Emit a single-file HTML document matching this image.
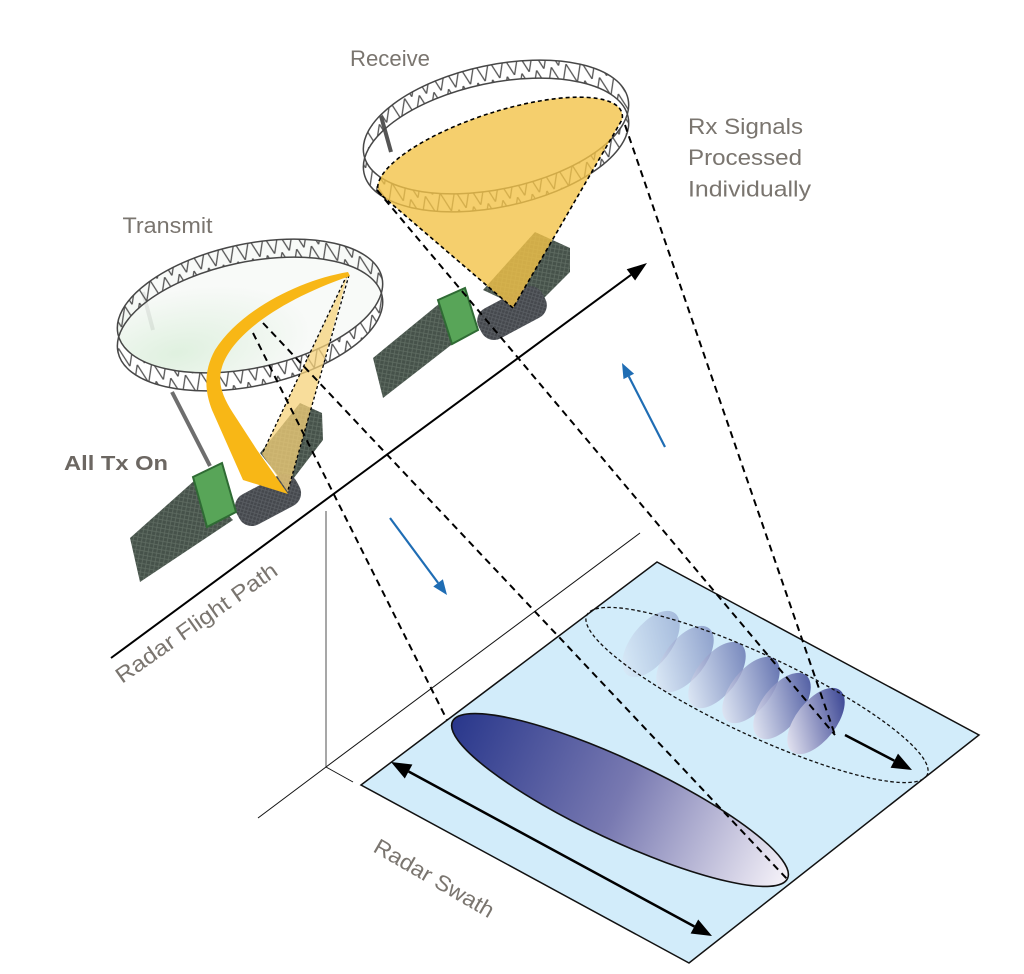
<!DOCTYPE html>
<html><head><meta charset="utf-8">
<style>html,body{margin:0;padding:0;background:#fff}svg{display:block}</style>
</head><body>
<svg width="1024" height="974" viewBox="0 0 1024 974" xmlns="http://www.w3.org/2000/svg">
<defs>
 <pattern id="truss" width="15" height="20" patternUnits="userSpaceOnUse">
  <path d="M0,20 L7.5,0 L15,20" fill="none" stroke="#555" stroke-width="1.3"/>
 </pattern>
 <pattern id="panel" width="6" height="6" patternUnits="userSpaceOnUse" patternTransform="rotate(-35)">
  <rect width="6" height="6" fill="#46524a"/>
  <path d="M0,0 L6,6 M6,0 L0,6" stroke="#5f6c62" stroke-width="0.8"/>
 </pattern>
 <pattern id="body" width="5" height="5" patternUnits="userSpaceOnUse">
  <rect width="5" height="5" fill="#45484d"/>
  <path d="M0,0 L5,5 M5,0 L0,5" stroke="#5a5e63" stroke-width="0.8"/>
 </pattern>
 <linearGradient id="bigG" gradientUnits="userSpaceOnUse" x1="437" y1="800" x2="803" y2="800">
  <stop offset="0" stop-color="#2a388c"/>
  <stop offset="0.5" stop-color="#7879b1"/>
  <stop offset="1" stop-color="#f4f1f8"/>
 </linearGradient>
 <linearGradient id="smG" x1="0.7" y1="0" x2="0.3" y2="1">
  <stop offset="0" stop-color="#394493"/>
  <stop offset="1" stop-color="#e6e6f2"/>
 </linearGradient>
 <radialGradient id="memb" cx="0.2" cy="0.75" r="0.5">
  <stop offset="0" stop-color="#dcefdc"/>
  <stop offset="1" stop-color="#f7f9f7"/>
 </radialGradient>
</defs>
<rect width="1024" height="974" fill="#fff"/>

<!-- ground plane -->
<polygon points="361,785 657,562 979,735 689,963" fill="#d2ecfa" stroke="#111" stroke-width="1.5"/>
<ellipse cx="620" cy="800" rx="185" ry="40" transform="rotate(25.1 620 800)" fill="url(#bigG)" stroke="#111" stroke-width="1.6"/>

<ellipse cx="651" cy="644" rx="20" ry="39" transform="rotate(38 651 644)" fill="url(#smG)" opacity="0.3"/>
<ellipse cx="685" cy="659" rx="20" ry="39" transform="rotate(38 685 659)" fill="url(#smG)" opacity="0.45"/>
<ellipse cx="717" cy="675" rx="20" ry="39" transform="rotate(38 717 675)" fill="url(#smG)" opacity="0.6"/>
<ellipse cx="751" cy="690" rx="20" ry="39" transform="rotate(38 751 690)" fill="url(#smG)" opacity="0.72"/>
<ellipse cx="782" cy="706" rx="20" ry="39" transform="rotate(38 782 706)" fill="url(#smG)" opacity="0.85"/>
<ellipse cx="816" cy="721" rx="20" ry="39" transform="rotate(38 816 721)" fill="url(#smG)" opacity="1"/>

<ellipse cx="757" cy="695" rx="188" ry="40" transform="rotate(25.1 757 695)" fill="none" stroke="#111" stroke-width="1.3" stroke-dasharray="3.5 2.5"/>

<!-- arrows on plane -->
<line x1="408.6" y1="771.5" x2="694.4" y2="926.5" stroke="#000" stroke-width="2.5"/>
<polygon points="712,936 690.6,933.5 698.2,919.5" fill="#000"/>
<polygon points="391,762 404.8,778.5 412.4,764.5" fill="#000"/>
<line x1="845" y1="735" x2="894.3" y2="760.7" stroke="#000" stroke-width="2.5"/>
<polygon points="912,770 890.6,767.8 898,753.6" fill="#000"/>

<!-- thin projection lines -->
<line x1="326" y1="511" x2="326" y2="767" stroke="#8a8a8a" stroke-width="1.5"/>
<line x1="326" y1="767" x2="640" y2="533" stroke="#111" stroke-width="1"/>
<line x1="258" y1="818" x2="326" y2="767" stroke="#111" stroke-width="1"/>
<line x1="326" y1="767" x2="353" y2="782" stroke="#111" stroke-width="1"/>

<!-- LEFT (Transmit) satellite -->
<polygon points="130,538 195,480 233,520 140,582" fill="url(#panel)"/>
<polygon points="260,453 300,403 322,413 323,440 287,487" fill="url(#panel)"/>
<line x1="172" y1="392" x2="210" y2="466" stroke="#6e6e6e" stroke-width="4"/>
<line x1="143" y1="292" x2="153" y2="330" stroke="#555" stroke-width="4"/>
<rect x="234" y="483" width="68" height="34" rx="14" transform="rotate(-28 268 500)" fill="url(#body)"/>
<polygon points="193,477 222,463 236,512 207,527" fill="#58a558" stroke="#2f6b34" stroke-width="2"/>

<g transform="rotate(-12 250 306)">
 <ellipse cx="250" cy="306" rx="135" ry="62" fill="url(#memb)" opacity="0.9"/>
 <path fill-rule="evenodd" fill="url(#truss)" d="M115,306 a135,62 0 1,0 270,0 a135,62 0 1,0 -270,0 Z M111.3,323.6 a135,62 0 1,0 270,0 a135,62 0 1,0 -270,0 Z"/>
 <ellipse cx="250" cy="306" rx="135" ry="62" fill="none" stroke="#474747" stroke-width="1.5"/>
 <ellipse cx="246.3" cy="323.6" rx="135" ry="62" fill="none" stroke="#474747" stroke-width="1.5"/>
</g>

<polygon points="348,274 262,454 288,492" fill="#f6d27a" opacity="0.75"/>
<line x1="347" y1="275" x2="262" y2="454" stroke="#000" stroke-width="1.3" stroke-dasharray="3 2.5"/>
<line x1="349" y1="275" x2="288" y2="490" stroke="#000" stroke-width="1.3" stroke-dasharray="3 2.5"/>

<path d="M348,272 C300,280 240,310 215,350 C203,372 205,392 212,410 L243,480 L288,494 L257,450 L233,413 C220,393 218,380 222,367 C232,335 280,300 350,276 Z" fill="#f8b716"/>

<!-- RIGHT (Receive) satellite -->
<polygon points="373,358 440,303 455,342 383,398" fill="url(#panel)"/>
<polygon points="483,290 535,232 570,248 570,272 530,312" fill="url(#panel)"/>
<line x1="381" y1="116" x2="391" y2="152" stroke="#555" stroke-width="4"/>
<rect x="476" y="296" width="72" height="34" rx="14" transform="rotate(-28 512 313)" fill="url(#body)"/>
<polygon points="438,300 465,288 478,330 452,344" fill="#58a558" stroke="#2f6b34" stroke-width="2"/>

<g transform="rotate(-12 496 127)">
 <path fill-rule="evenodd" fill="url(#truss)" d="M361,127 a135,62 0 1,0 270,0 a135,62 0 1,0 -270,0 Z M357.3,144.6 a135,62 0 1,0 270,0 a135,62 0 1,0 -270,0 Z"/>
 <ellipse cx="496" cy="127" rx="135" ry="62" fill="none" stroke="#474747" stroke-width="1.5"/>
 <ellipse cx="492.3" cy="144.6" rx="135" ry="62" fill="none" stroke="#474747" stroke-width="1.5"/>
</g>

<path d="M513,308 L378.8,192.9 A128,40 -18 1 1 622.1,119.6 Z" fill="#f3c348" opacity="0.8"/>
<path d="M513,308 L378.8,192.9 A128,40 -18 1 1 622.1,119.6 Z" fill="none" stroke="#000" stroke-width="1.6" stroke-dasharray="4 3"/>

<!-- dashed projection lines -->
<g stroke="#000" stroke-width="2" stroke-dasharray="7 5" fill="none">
 <line x1="253" y1="333" x2="447" y2="720"/>
 <line x1="263" y1="323" x2="788" y2="880"/>
 <line x1="377" y1="190" x2="835" y2="735"/>
 <line x1="625" y1="125" x2="835" y2="735"/>
</g>

<!-- flight path -->
<line x1="111" y1="658" x2="630.9" y2="274.9" stroke="#000" stroke-width="2"/>
<polygon points="647,263 635.1,280.5 626.7,269.3" fill="#000"/>

<!-- blue arrows -->
<line x1="390" y1="518" x2="438.1" y2="582.9" stroke="#1f6db4" stroke-width="2.2"/>
<polygon points="447,595 433.3,586.5 442.9,579.3" fill="#1f6db4"/>
<line x1="665" y1="447" x2="628.8" y2="376.4" stroke="#1f6db4" stroke-width="2.2"/>
<polygon points="622,363 634.1,373.7 623.5,379.1" fill="#1f6db4"/>

<!-- labels -->
<g font-family="'Liberation Sans', Arial, sans-serif" fill="#7a756f" font-size="22">
 <text x="350" y="66" textLength="80" lengthAdjust="spacingAndGlyphs">Receive</text>
 <text x="122.5" y="233" textLength="90" lengthAdjust="spacingAndGlyphs">Transmit</text>
 <text x="688" y="134" textLength="115" lengthAdjust="spacingAndGlyphs">Rx Signals</text>
 <text x="688" y="165" textLength="114" lengthAdjust="spacingAndGlyphs">Processed</text>
 <text x="688" y="196.5" textLength="123" lengthAdjust="spacingAndGlyphs">Individually</text>
 <text transform="translate(122,684) rotate(-35)" x="0" y="0" textLength="192" lengthAdjust="spacingAndGlyphs">Radar Flight Path</text>
 <text transform="translate(372,851) rotate(30)" x="0" y="0" textLength="135" lengthAdjust="spacingAndGlyphs">Radar Swath</text>
 <text x="64" y="470" font-size="20" font-weight="bold" fill="#6c6762" textLength="104" lengthAdjust="spacingAndGlyphs">All Tx On</text>
</g>
</svg>
</body></html>
